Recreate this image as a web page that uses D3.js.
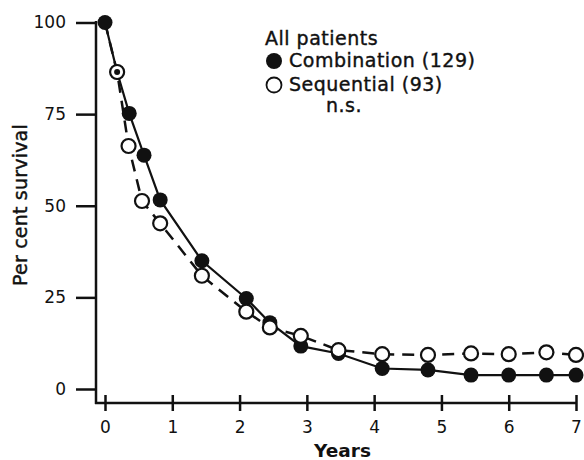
<!DOCTYPE html>
<html>
<head>
<meta charset="utf-8">
<script src="https://cdn.jsdelivr.net/npm/d3@7"></script>
<style>
  body { margin: 0; background: #fff; }
  svg text { font-family: "DejaVu Sans", sans-serif; fill: #111; }
</style>
</head>
<body>
<div id="chart"></div>
<script>
// Survival data (years, per cent surviving)
const combYears = [0, 0.18, 0.36, 0.58, 0.82, 1.44, 2.1, 2.45, 2.91, 3.47, 4.12, 4.8, 5.44, 6.0, 6.56, 7.0];
const combSurvival = [100, 86.5, 75.2, 63.8, 51.6, 35.0, 24.7, 18.1, 11.7, 9.7, 5.6, 5.2, 3.8, 3.8, 3.8, 3.8];

const seqYears = [0, 0.18, 0.35, 0.55, 0.82, 1.44, 2.1, 2.45, 2.91, 3.47, 4.12, 4.8, 5.44, 6.0, 6.56, 7.0];
const seqSurvival = [100, 86.5, 66.3, 51.3, 45.2, 30.9, 21.1, 16.8, 14.5, 10.6, 9.5, 9.3, 9.7, 9.5, 10.0, 9.3];

const xTicks = [0, 1, 2, 3, 4, 5, 6, 7];
const yTicks = [0, 25, 50, 75, 100];
const legendLines = ["Combination (129)", "Sequential (93)"];

function createChart() {
    const width = 584, height = 460;

    const svg = d3.select("#chart").append("svg")
        .attr("width", width)
        .attr("height", height);

    const x = d3.scaleLinear().domain([0, 7]).range([105, 576]);
    const y = d3.scaleLinear().domain([0, 100]).range([389, 22.5]);

    const comb = combYears.map((t, i) => ({ t, v: combSurvival[i] }));
    const seq = seqYears.map((t, i) => ({ t, v: seqSurvival[i] }));

    // Y axis: vertical line with ticks pointing left
    const yAxis = svg.append("g")
        .attr("transform", "translate(96,0)")
        .call(d3.axisLeft(y).tickValues(yTicks).tickFormat(d3.format("d")).tickSize(20).tickPadding(10));
    yAxis.select(".domain").remove();
    yAxis.selectAll(".tick line").attr("stroke", "#111").attr("stroke-width", 2.5);
    yAxis.selectAll(".tick text")
        .attr("font-family", "'Liberation Sans', Arial, sans-serif")
        .attr("font-size", 17).attr("fill", "#111");
    svg.append("line")
        .attr("x1", 96).attr("x2", 96)
        .attr("y1", 21).attr("y2", 404)
        .attr("stroke", "#111").attr("stroke-width", 2.5);

    // X axis: horizontal line with ticks crossing it
    const xAxis = svg.append("g")
        .attr("transform", "translate(0,403)")
        .call(d3.axisBottom(x).tickValues(xTicks).tickFormat(d3.format("d")).tickSize(8).tickPadding(10));
    xAxis.select(".domain").remove();
    xAxis.selectAll(".tick line")
        .attr("y1", -8).attr("y2", 8)
        .attr("stroke", "#111").attr("stroke-width", 2.5);
    xAxis.selectAll(".tick text")
        .attr("font-family", "'Liberation Sans', Arial, sans-serif")
        .attr("font-size", 17).attr("fill", "#111");
    svg.append("line")
        .attr("x1", 95).attr("x2", 577)
        .attr("y1", 403).attr("y2", 403)
        .attr("stroke", "#111").attr("stroke-width", 2.5);

    // axis titles
    svg.append("text")
        .attr("x", 342.5).attr("y", 457)
        .attr("text-anchor", "middle")
        .attr("font-size", 18.5)
        .attr("font-weight", "bold")
        .text("Years");
    svg.append("text")
        .attr("transform", "translate(27,205) rotate(-90)")
        .attr("text-anchor", "middle")
        .attr("font-size", 19)
        .attr("letter-spacing", 0.2)
        .attr("stroke", "#111").attr("stroke-width", 0.4)
        .text("Per cent survival");

    const line = d3.line().x(d => x(d.t)).y(d => y(d.v));

    svg.append("path")
        .datum(seq)
        .attr("d", line)
        .attr("fill", "none")
        .attr("stroke", "#111")
        .attr("stroke-width", 2.5)
        .attr("stroke-dasharray", "12,8");

    svg.append("path")
        .datum(comb)
        .attr("d", line)
        .attr("fill", "none")
        .attr("stroke", "#111")
        .attr("stroke-width", 2.2);

    svg.selectAll(".comb")
        .data(comb)
        .enter().append("circle")
        .attr("class", "comb")
        .attr("cx", d => x(d.t))
        .attr("cy", d => y(d.v))
        .attr("r", 7.5)
        .attr("fill", "#111");

    // open markers; first point is shared with the filled series, so skip it
    svg.selectAll(".seq")
        .data(seq.slice(1))
        .enter().append("circle")
        .attr("class", "seq")
        .attr("cx", d => x(d.t))
        .attr("cy", d => y(d.v))
        .attr("r", 7)
        .attr("fill", "#fff")
        .attr("stroke", "#111")
        .attr("stroke-width", 2.2);

    // where both series meet, the filled one shows as a dot inside the ring
    const shared = comb.filter(c => seq.some(s => s.t === c.t && s.v === c.v) && c.t > 0);
    svg.selectAll(".shared")
        .data(shared)
        .enter().append("circle")
        .attr("cx", d => x(d.t))
        .attr("cy", d => y(d.v))
        .attr("r", 3)
        .attr("fill", "#111");

    // legend
    const lg = svg.append("g").attr("font-size", 19).attr("letter-spacing", 0.5);
    lg.append("text").attr("x", 265).attr("y", 45).text("All patients");
    lg.append("circle").attr("cx", 274).attr("cy", 61).attr("r", 8).attr("fill", "#111");
    lg.append("text").attr("x", 289).attr("y", 67).text(legendLines[0]);
    lg.append("circle").attr("cx", 274).attr("cy", 85).attr("r", 7.5)
        .attr("fill", "#fff").attr("stroke", "#111").attr("stroke-width", 1.8);
    lg.append("text").attr("x", 289).attr("y", 91).text(legendLines[1]);
    lg.append("text").attr("x", 326).attr("y", 112).text("n.s.");
    lg.selectAll("text").attr("stroke", "#111").attr("stroke-width", 0.4);
}

document.addEventListener('DOMContentLoaded', createChart);
</script>
</body>
</html>
